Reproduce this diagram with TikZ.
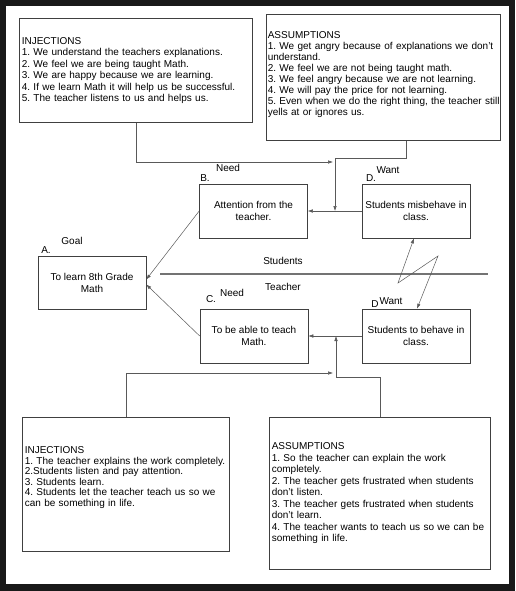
\documentclass[tikz,border=0pt]{standalone}
\usepackage{fontspec}
\setmainfont{Liberation Sans}
\usetikzlibrary{arrows.meta, positioning}
\frenchspacing
\hyphenpenalty=10000

\tikzset{
  >={Latex[length=5pt,width=3.5pt]},
  notebox/.style={draw=black!75, line width=0.6pt, anchor=north west, align=left,
    inner xsep=2.5pt, inner ysep=1pt, font=\fontsize{10}{11.5}\selectfont},
  card/.style={draw=black!75, line width=0.6pt, minimum width=108pt, minimum height=54pt,
    align=center, font=\fontsize{10}{12}\selectfont},
  tag/.style={inner sep=0pt, font=\fontsize{10}{12}\selectfont},
  link/.style={draw=black!65, line width=0.5pt, ->},
  divider/.style={draw=black!55, line width=1.1pt},
}

\begin{document}
\begin{tikzpicture}[x=1pt, y=-1pt]
  % frame of the scan
  \useasboundingbox (0,0) rectangle (515,591);
  \fill[black!90] (0,0) rectangle (515,591);
  \fill[white] (6,6) rectangle (509,584);

  % Text boxes:
  \node[notebox, text width=228pt, minimum height=104pt] (inj1) at (19,18) {INJECTIONS\\
    1. We understand the teachers explanations.\\
    2. We feel we are being taught Math.\\
    3. We are happy because we are learning.\\
    4. If we learn Math it will help us be successful.\\
    5. The teacher listens to us and helps us.};
  \node[notebox, inner xsep=1.5pt, text width=231pt, minimum height=126pt, font=\fontsize{10}{11}\selectfont] (asm1) at (266,14) {ASSUMPTIONS\\
    1. We get angry because of explanations we don't\\
    understand.\\
    2. We feel we are not being taught math.\\
    3. We feel angry because we are not learning.\\
    4. We will pay the price for not learning.\\
    \mbox{5. Even when we do the right thing, the teacher still}\\
    yells at or ignores us.\\[-2.5pt]\mbox{}};
  \node[notebox, text width=202pt, minimum height=134pt, font=\fontsize{10}{10.5}\selectfont] (inj2) at (22,417) {INJECTIONS\\
    1. The teacher explains the work completely.\\
    2.Students listen and pay attention.\\
    3. Students learn.\\
    4. Students let the teacher teach us so we\\
    can be something in life.\\[5pt]\mbox{}};
  \node[notebox, text width=216pt, minimum height=152pt] (asm2) at (269,417) {ASSUMPTIONS\\
    1. So the teacher can explain the work\\
    completely.\\
    2. The teacher gets frustrated when students\\
    don't listen.\\
    3. The teacher gets frustrated when students\\
    don't learn.\\
    4. The teacher wants to teach us so we can be\\
    something in life.};

  % Cloud boxes:
  \node[card] (need1) at (253.5,211) {Attention from the\\teacher.};
  \node[card] (want1) at (416,211) {Students misbehave in\\class.};
  \node[card, minimum height=53pt] (goal) at (92,282.5) {To learn 8th Grade\\Math};
  \node[card] (need2) at (254,336) {To be able to teach\\Math.};
  \node[card] (want2) at (416,336) {Students to behave in\\class.};

  % Labels:
  \node[tag] (lblB) at (205,178) {B.};
  \node[tag] (lblNeedB) at (228,168) {Need};
  \node[tag] (lblD1) at (371,178) {D.};
  \node[tag] (lblWant1) at (388,170) {Want};
  \node[tag] (lblGoal) at (72,241) {Goal};
  \node[tag] (lblA) at (46,250) {A.};
  \node[tag] (lblStud) at (283,261) {Students};
  \node[tag] (lblTeach) at (283,287) {Teacher};
  \node[tag] (lblC) at (211,299) {C.};
  \node[tag] (lblNeedC) at (232,293) {Need};
  \node[tag] (lblD2) at (375,304) {D};
  \node[tag] (lblWant2) at (391,301) {Want};

  % Students / Teacher line
  \coordinate (divL) at (160,274);
  \coordinate (divR) at (488,274);
  \draw[divider] (divL) -- (divR);

  % Connectors:
  \coordinate (tjl) at (333,162);
  \coordinate (tjr) at (335,158);
  \draw[link] (inj1.south) |- (tjl);
  \draw[link] ([xshift=23pt]asm1.south) |- (tjr) -- (tjr |- want1.west);
  \draw[link] (want1.west) -- (need1.east);
  \draw[link] (want2.west) -- (need2.east);
  \draw[link] (need1.west) -- ([yshift=3pt]goal.east);
  \draw[link] (need2.west) -- ([yshift=-2pt]goal.east);
  \coordinate (bjl) at (333,373);
  \coordinate (bjr) at (336,377);
  \draw[link] (inj2.north) |- (bjl);
  \draw[link] (asm2.north) |- (bjr) -- (bjr |- want2.west);
  \coordinate (zz1) at (398,283);
  \coordinate (zz2) at (438,256);
  \draw[link, <->] ([xshift=-2pt]want1.south) -- (zz1) -- (zz2) -- ([xshift=1pt]want2.north);
\end{tikzpicture}
\end{document}
